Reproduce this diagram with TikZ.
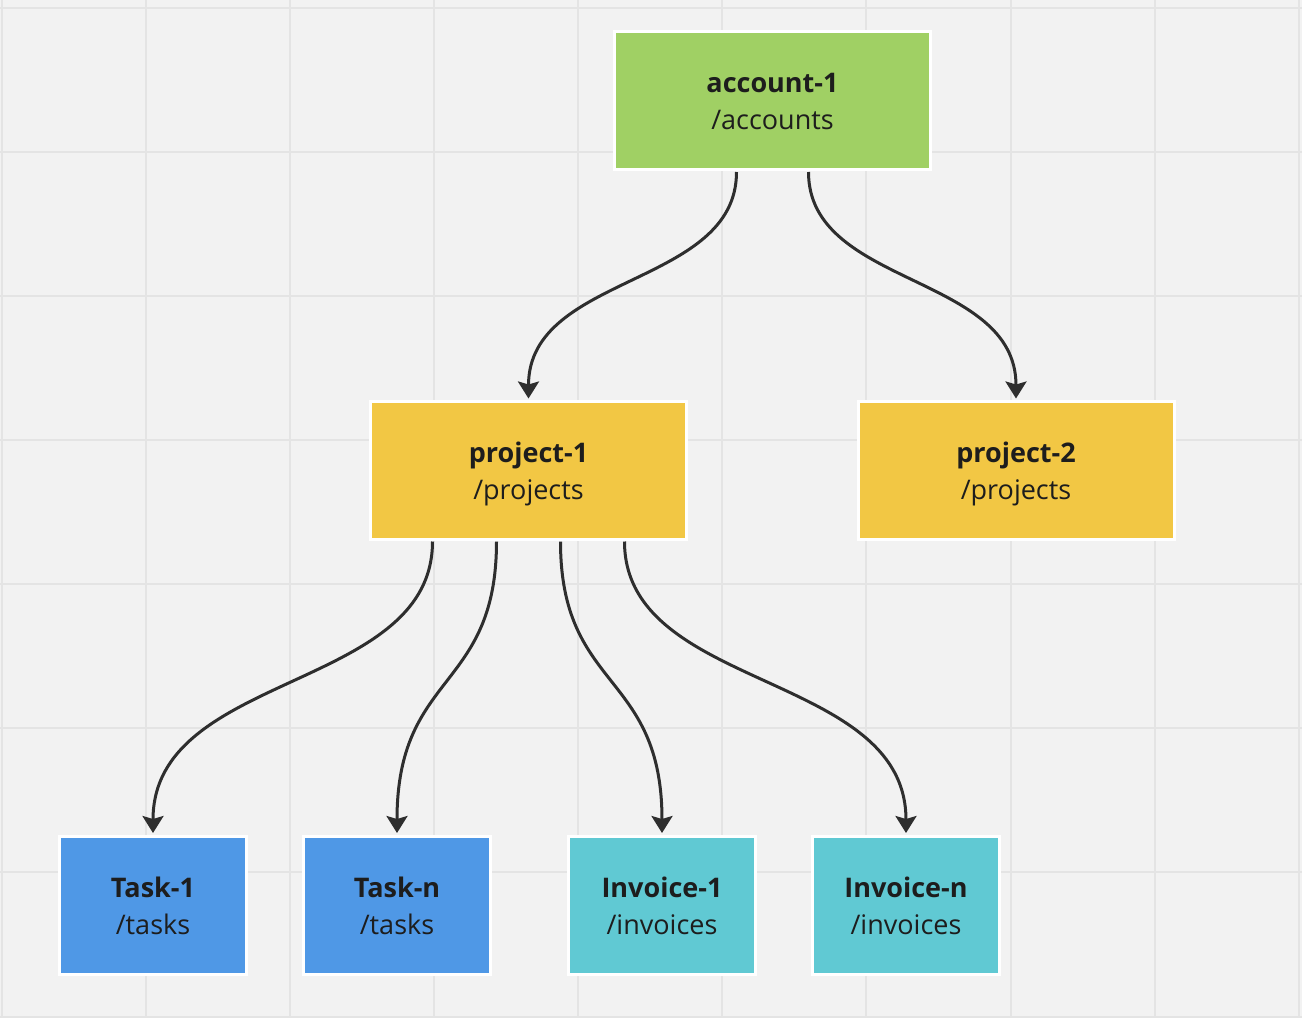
\documentclass[tikz,border=0pt]{standalone}
\usepackage{fontspec}
\setmainfont{Open Sans}
\usetikzlibrary{arrows.meta,calc}
\definecolor{bg}{HTML}{F2F2F2}
\definecolor{gridc}{HTML}{E4E4E4}
\definecolor{green1}{HTML}{A0D064}
\definecolor{yellow1}{HTML}{F2C744}
\definecolor{blue1}{HTML}{4F98E6}
\definecolor{cyan1}{HTML}{60C9D3}
\definecolor{txt}{HTML}{1D1D1D}
\definecolor{linec}{HTML}{2E2E2E}
\begin{document}
\begin{tikzpicture}[x=1pt,y=-1pt,
  box/.style={rectangle, draw=white, line width=3pt, minimum width=316pt, minimum height=138pt, inner sep=0pt},
  smallbox/.style={box, minimum width=187pt},
  title/.style={anchor=base, inner sep=0pt, font=\fontsize{27}{32}\selectfont\bfseries, text=txt},
  sub/.style={anchor=base, inner sep=0pt, font=\fontsize{27}{32}\selectfont, text=txt},
  gridline/.style={draw=gridc, line width=2pt},
  conn/.style={draw=linec, line width=3pt, -{Stealth[length=17pt,width=21pt,inset=3pt]}}]
\fill[bg] (0,0) rectangle (1302,1018);
\useasboundingbox (0,0) rectangle (1302,1018);
\foreach \i in {0,...,9} \draw[gridline] ({1.5+144.15*\i},0) -- ({1.5+144.15*\i},1018);
\foreach \j in {0,...,7} \draw[gridline] (0,{7.5+144.15*\j}) -- (1302,{7.5+144.15*\j});

% boxes
\node[box, fill=green1] (acc) at (772.5,100.5) {};
\node[box, fill=yellow1] (p1) at (528.5,470) {};
\node[box, fill=yellow1] (p2) at (1016,470) {};
\node[smallbox, fill=blue1] (t1) at (153,905.5) {};
\node[smallbox, fill=blue1] (tn) at (397,905.5) {};
\node[smallbox, fill=cyan1] (i1) at (662,905.5) {};
\node[smallbox, fill=cyan1] (in) at (906,905.5) {};

% labels
\node[title] (acc-a) at ($(acc.center)+(0,-8)$) {account-1};
\node[sub]   (acc-b) at ($(acc.center)+(0,29)$) {/accounts};
\node[title] (p1-a) at ($(p1.center)+(0,-8)$) {project-1};
\node[sub]   (p1-b) at ($(p1.center)+(0,29)$) {/projects};
\node[title] (p2-a) at ($(p2.center)+(0,-8)$) {project-2};
\node[sub]   (p2-b) at ($(p2.center)+(0,29)$) {/projects};
\node[title] (t1-a) at ($(t1.center)+(0,-8)$) {Task-1};
\node[sub]   (t1-b) at ($(t1.center)+(0,29)$) {/tasks};
\node[title] (tn-a) at ($(tn.center)+(0,-8)$) {Task-n};
\node[sub]   (tn-b) at ($(tn.center)+(0,29)$) {/tasks};
\node[title] (i1-a) at ($(i1.center)+(0,-8)$) {Invoice-1};
\node[sub]   (i1-b) at ($(i1.center)+(0,29)$) {/invoices};
\node[title] (in-a) at ($(in.center)+(0,-8)$) {Invoice-n};
\node[sub]   (in-b) at ($(in.center)+(0,29)$) {/invoices};

% connectors
\draw[conn] ($(acc.south)+(-36,1)$) .. controls +(0,115) and +(0,-125) .. ($(p1.north)+(0,-1)$);
\draw[conn] ($(acc.south)+(36,1)$) .. controls +(0,115) and +(0,-125) .. ($(p2.north)+(0,-1)$);
\draw[conn] ($(p1.south)+(-96,1)$) .. controls +(0,150) and +(0,-162) .. ($(t1.north)+(0,-2)$);
\draw[conn] ($(p1.south)+(-32,1)$) .. controls +(0,150) and +(0,-162) .. ($(tn.north)+(0,-2)$);
\draw[conn] ($(p1.south)+(32,1)$) .. controls +(0,150) and +(0,-162) .. ($(i1.north)+(0,-2)$);
\draw[conn] ($(p1.south)+(96,1)$) .. controls +(0,150) and +(0,-162) .. ($(in.north)+(0,-2)$);
\end{tikzpicture}
\end{document}
